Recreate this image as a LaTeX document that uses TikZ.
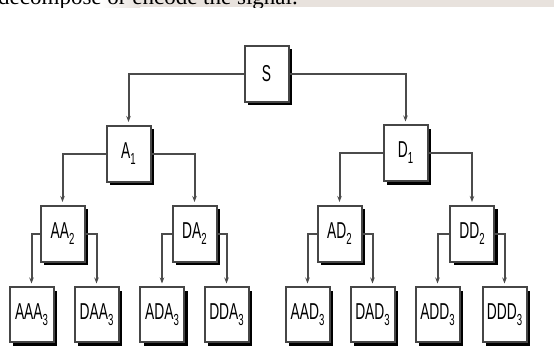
\documentclass[tikz,border=0pt]{standalone}
\usepackage{fontspec}
\setmainfont{Liberation Serif}
\newfontfamily\boxfont[FakeStretch=0.6]{Liberation Sans}
\usetikzlibrary{arrows.meta,shadows}
\definecolor{boxgray}{RGB}{70,70,70}
\definecolor{linegray}{RGB}{75,75,75}
\definecolor{band}{RGB}{232,226,221}
\newcommand\lbl[2]{#1\raisebox{-6pt}{\fontsize{16}{16}\selectfont #2}}
\begin{document}
\begin{tikzpicture}[x=1pt,y=-1pt,
  box/.style={draw=boxgray, line width=2pt, fill=white,
    minimum width=44pt, minimum height=56pt, inner sep=0pt,
    font=\boxfont\fontsize{23}{23}\selectfont,
    general shadow={fill=black, shadow xshift=3.5pt, shadow yshift=-3.5pt}},
  leaf/.style={box, minimum height=55pt},
  conn/.style={draw=linegray, line width=2pt,
    -{Stealth[length=6pt,width=4.5pt]}, shorten >=2.5pt}]
\fill[white] (0,0) rectangle (554,346);
\useasboundingbox (0,0) rectangle (554,346);
% top band with cut-off caption
\shade[left color=white, right color=band] (100,0) rectangle (140,7);
\fill[band] (140,0) rectangle (554,7);
\begin{scope}
  \clip (0,0) rectangle (554,7);
  \node[anchor=base west, inner sep=0pt, font=\fontsize{23}{23}\selectfont] (cap) at (-2,4.5) {decompose or encode the signal.};
\end{scope}
% level 0
\node[box] (S) at (266.5,73.5) {S};
% level 1
\node[box] (A1) at (128.5,153.5) {\lbl{A}{1}};
\node[box] (D1) at (405.5,153) {\lbl{D}{1}};
% level 2
\node[box] (AA2) at (62.5,233.5) {\lbl{AA}{2}};
\node[box] (DA2) at (194.5,233.5) {\lbl{DA}{2}};
\node[box] (AD2) at (339.5,233.5) {\lbl{AD}{2}};
\node[box] (DD2) at (472,233.5) {\lbl{DD}{2}};
% level 3
\node[leaf] (AAA3) at (31.5,314.5) {\lbl{AAA}{3}};
\node[leaf] (DAA3) at (96.5,314.5) {\lbl{DAA}{3}};
\node[leaf] (ADA3) at (162,314.5) {\lbl{ADA}{3}};
\node[leaf] (DDA3) at (226.5,314.5) {\lbl{DDA}{3}};
\node[leaf] (AAD3) at (307.5,314.5) {\lbl{AAD}{3}};
\node[leaf] (DAD3) at (372.5,314.5) {\lbl{DAD}{3}};
\node[leaf] (ADD3) at (437.5,314.5) {\lbl{ADD}{3}};
\node[leaf] (DDD3) at (504.5,314.5) {\lbl{DDD}{3}};
% connectors
\draw[conn] (S.west) -| (A1.north);
\draw[conn] (S.east) -| (D1.north);
\draw[conn] (A1.west) -| (AA2.north);
\draw[conn] (A1.east) -| (DA2.north);
\draw[conn] (D1.west) -| (AD2.north);
\draw[conn] (D1.east) -| (DD2.north);
\draw[conn] (AA2.west) -| (AAA3.north);
\draw[conn] (AA2.east) -| (DAA3.north);
\draw[conn] (DA2.west) -| (ADA3.north);
\draw[conn] (DA2.east) -| (DDA3.north);
\draw[conn] (AD2.west) -| (AAD3.north);
\draw[conn] (AD2.east) -| (DAD3.north);
\draw[conn] (DD2.west) -| (ADD3.north);
\draw[conn] (DD2.east) -| (DDD3.north);
\end{tikzpicture}
\end{document}
